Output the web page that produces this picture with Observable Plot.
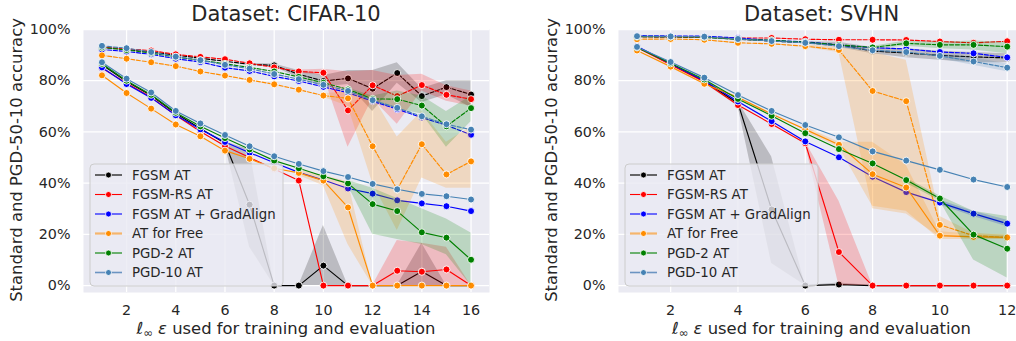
<!DOCTYPE html>
<html><head><meta charset="utf-8">
<script src="https://cdn.jsdelivr.net/npm/d3@7"></script>
<script src="https://cdn.jsdelivr.net/npm/@observablehq/plot@0.6"></script>
<style>
html,body{margin:0;padding:0;background:#fff;overflow:hidden;width:1016px;height:341px;}
#wrap{position:relative;width:1016px;height:341px;overflow:hidden;font-family:"DejaVu Sans",sans-serif;}
</style></head><body><div id="wrap"></div>
<script>
const methods = ["FGSM AT","FGSM-RS AT","FGSM AT + GradAlign","AT for Free","PGD-2 AT","PGD-10 AT"];
const colors = ["black","red","blue","darkorange","green","steelblue"];
const legendLine = ["#444444","red","blue","#f5b56c","green","#6b94c2"];
const legendLineWidth = [1.6,1.1,1.1,2.2,1.1,1.6];
const yTicks = [0,0.2,0.4,0.6,0.8,1.0];
const cifarEps = [1,2,3,4,5,6,7,8,9,10,11,12,13,14,15,16];
const cifarTicks = [2,4,6,8,10,12,14,16];
const svhnEps = [1,2,3,4,5,6,7,8,9,10,11,12];
const svhnTicks = [2,4,6,8,10,12];
const N = null;

// CIFAR-10: standard accuracy (dashed)
const cifarStdFGSM  = [0.930,0.922,0.912,0.900,0.888,0.876,0.864,0.860,0.825,0.799,0.809,0.769,0.830,0.740,0.775,0.746];
const cifarStdRS    = [0.932,0.924,0.918,0.903,0.893,0.884,0.868,0.852,0.836,0.831,0.684,0.782,0.740,0.783,0.745,0.728];
const cifarStdGA    = [0.922,0.914,0.903,0.886,0.873,0.851,0.838,0.817,0.799,0.776,0.753,0.720,0.689,0.656,0.626,0.589];
const cifarStdFree  = [0.899,0.886,0.872,0.857,0.836,0.820,0.803,0.786,0.765,0.742,0.731,0.544,0.375,0.552,0.434,0.485];
const cifarStdPGD2  = [0.930,0.920,0.908,0.893,0.880,0.866,0.852,0.836,0.815,0.792,0.766,0.729,0.728,0.703,0.622,0.693];
const cifarStdPGD10 = [0.936,0.927,0.912,0.894,0.880,0.862,0.847,0.826,0.806,0.784,0.760,0.724,0.694,0.661,0.630,0.609];
// CIFAR-10: PGD-50-10 accuracy (solid)
const cifarPgdFGSM  = [0.862,0.797,0.742,0.672,0.613,0.556,0.316,0,0,0.078,0,0,0,0.055,0,0];
const cifarPgdRS    = [0.850,0.790,0.735,0.665,0.602,0.545,0.500,0.455,0.410,0,0,0,0.058,0.054,0.063,0];
const cifarPgdGA    = [0.852,0.787,0.733,0.665,0.610,0.561,0.519,0.480,0.442,0.412,0.379,0.359,0.333,0.321,0.310,0.291];
const cifarPgdFree  = [0.821,0.752,0.691,0.629,0.583,0.527,0.495,0.458,0.440,0.410,0.305,0,0,0,0,0];
const cifarPgdPGD2  = [0.866,0.800,0.745,0.675,0.622,0.576,0.532,0.488,0.458,0.427,0.399,0.318,0.291,0.208,0.187,0.101];
const cifarPgdPGD10 = [0.872,0.808,0.754,0.682,0.633,0.588,0.544,0.505,0.475,0.447,0.424,0.397,0.376,0.358,0.349,0.336];
// CIFAR-10 confidence bands (lower / upper)
const cifarStdFGSMLo = [N,N,N,N,N,N,0.860,0.855,0.810,0.775,0.785,0.680,0.790,0.715,0.745,0.695];
const cifarStdFGSMHi = [N,N,N,N,N,N,0.868,0.865,0.840,0.820,0.840,0.840,0.870,0.770,0.800,0.800];
const cifarStdRSLo   = [N,N,N,N,N,N,N,N,0.830,0.820,0.540,0.730,0.630,0.760,0.720,0.700];
const cifarStdRSHi   = [N,N,N,N,N,N,N,N,0.842,0.845,0.835,0.840,0.820,0.825,0.780,0.760];
const cifarStdFreeLo = [N,N,N,N,N,N,N,N,N,0.735,0.700,0.400,0.215,0.420,0.380,0.380];
const cifarStdFreeHi = [N,N,N,N,N,N,N,N,N,0.750,0.755,0.740,0.580,0.680,0.560,0.620];
const cifarStdPGD2Lo = [N,N,N,N,N,N,N,N,N,N,0.760,0.720,0.690,0.670,0.540,0.640];
const cifarStdPGD2Hi = [N,N,N,N,N,N,N,N,N,N,0.772,0.740,0.760,0.740,0.680,0.740];
const cifarPgdFGSMLo = [N,N,N,N,N,0.550,0.150,0,0,0,0,0,0,0,0,0];
const cifarPgdFGSMHi = [N,N,N,N,N,0.562,0.530,0,0,0.235,0,0,0,0.165,0,0];
const cifarPgdRSLo   = [N,N,N,N,N,N,N,N,N,N,N,0,0,0,0,0];
const cifarPgdRSHi   = [N,N,N,N,N,N,N,N,N,N,N,0,0.176,0.165,0.150,0];
const cifarPgdFreeLo = [N,N,N,N,N,N,N,N,0.430,0.390,0.160,0,N,N,N,N];
const cifarPgdFreeHi = [N,N,N,N,N,N,N,N,0.450,0.430,0.405,0,N,N,N,N];
const cifarPgdPGD2Lo = [N,N,N,N,N,N,N,N,N,N,0.390,0.200,0.180,0.160,0.120,0.000];
const cifarPgdPGD2Hi = [N,N,N,N,N,N,N,N,N,N,0.410,0.380,0.340,0.300,0.260,0.205];

// SVHN: standard accuracy (dashed)
const svhnStdFGSM  = [0.972,0.971,0.970,0.962,0.955,0.948,0.940,0.916,0.908,0.899,0.893,0.889];
const svhnStdRS    = [0.972,0.972,0.970,0.967,0.967,0.962,0.960,0.960,0.959,0.953,0.948,0.954];
const svhnStdGA    = [0.976,0.975,0.974,0.967,0.957,0.952,0.940,0.929,0.924,0.912,0.907,0.891];
const svhnStdFree  = [0.962,0.963,0.960,0.948,0.944,0.935,0.920,0.760,0.720,0.237,0.195,0.188];
const svhnStdPGD2  = [0.972,0.972,0.970,0.962,0.958,0.950,0.940,0.930,0.946,0.940,0.940,0.933];
const svhnStdPGD10 = [0.974,0.973,0.972,0.963,0.955,0.948,0.935,0.919,0.912,0.897,0.875,0.851];
// SVHN: PGD-50-10 accuracy (solid)
const svhnPgdFGSM  = [0.932,0.865,0.798,0.712,0.297,0,0.004,0,0,0,0,0];
const svhnPgdRS    = [0.930,0.862,0.795,0.705,0.631,0.556,0.131,0,0,0,0,0];
const svhnPgdGA    = [0.935,0.866,0.800,0.719,0.642,0.563,0.501,0.425,0.365,0.324,0.281,0.242];
const svhnPgdFree  = [0.918,0.855,0.788,0.735,0.670,0.610,0.550,0.435,0.383,0.195,0.190,0.188];
const svhnPgdPGD2  = [0.930,0.868,0.805,0.729,0.663,0.595,0.533,0.477,0.412,0.340,0.199,0.144];
const svhnPgdPGD10 = [0.932,0.873,0.812,0.744,0.682,0.627,0.579,0.524,0.488,0.452,0.414,0.385];
// SVHN confidence bands
const svhnStdFGSMLo  = [N,N,N,N,N,0.945,0.930,0.905,0.890,0.880,0.870,0.870];
const svhnStdFGSMHi  = [N,N,N,N,N,0.952,0.950,0.930,0.925,0.915,0.910,0.905];
const svhnStdFreeLo  = [N,N,N,N,N,0.930,0.910,0.300,0.280,0.190,0.185,0.180];
const svhnStdFreeHi  = [N,N,N,N,N,0.940,0.930,0.910,0.880,0.270,0.205,0.195];
const svhnStdPGD2Lo  = [N,N,N,N,N,N,N,0.925,0.935,0.925,0.920,0.905];
const svhnStdPGD2Hi  = [N,N,N,N,N,N,N,0.935,0.955,0.950,0.955,0.950];
const svhnStdPGD10Lo = [N,N,N,N,N,N,N,N,N,0.885,0.860,0.835];
const svhnStdPGD10Hi = [N,N,N,N,N,N,N,N,N,0.905,0.890,0.865];
const svhnPgdFGSMLo  = [N,N,0.790,0.700,0.086,0,0,0,0,0,0,0];
const svhnPgdFGSMHi  = [N,N,0.805,0.720,0.503,0,0.010,0,0,0,0,0];
const svhnPgdRSLo    = [N,N,N,N,N,0.550,0.000,0,0,0,0,0];
const svhnPgdRSHi    = [N,N,N,N,N,0.562,0.330,0,0,0,0,0];
const svhnPgdGALo    = [N,N,N,N,N,N,N,N,N,0.315,0.270,0.230];
const svhnPgdGAHi    = [N,N,N,N,N,N,N,N,N,0.333,0.290,0.255];
const svhnPgdFreeLo  = [N,N,N,N,N,0.600,0.540,0.310,0.290,0.180,0.180,0.180];
const svhnPgdFreeHi  = [N,N,N,N,N,0.620,0.560,0.560,0.470,0.210,0.200,0.200];
const svhnPgdPGD2Lo  = [N,N,N,N,N,N,N,N,0.400,0.330,0.100,0.030];
const svhnPgdPGD2Hi  = [N,N,N,N,N,N,N,N,0.420,0.350,0.290,0.270];

const wrap = document.getElementById("wrap");

function buildRows(eps, std, pgd, stdLo, stdHi, pgdLo, pgdHi) {
  const rows = [];
  methods.forEach((m, i) => {
    eps.forEach((e, j) => {
      rows.push({m: i, metric: "std", eps: e, acc: std[i][j],
        lo: stdLo[i] ? stdLo[i][j] : null, hi: stdHi[i] ? stdHi[i][j] : null});
      rows.push({m: i, metric: "pgd", eps: e, acc: pgd[i][j],
        lo: pgdLo[i] ? pgdLo[i][j] : null, hi: pgdHi[i] ? pgdHi[i][j] : null});
    });
  });
  return rows;
}

function panel(o) {
  const rows = buildRows(o.eps, o.std, o.pgd, o.stdLo, o.stdHi, o.pgdLo, o.pgdHi);
  const marks = [
    Plot.frame({fill: "#EAEAF2", stroke: "none"}),
    Plot.gridX(o.ticks, {stroke: "white", strokeOpacity: 1, strokeWidth: 1.25}),
    Plot.gridY(yTicks, {stroke: "white", strokeOpacity: 1, strokeWidth: 1.25}),
    Plot.axisX(o.ticks, {tickSize: 0, tickPadding: 12, fontSize: 14.3, label: null}),
    Plot.axisY(yTicks, {tickSize: 0, tickPadding: 13, fontSize: 14.3, label: null,
      tickFormat: d => Math.round(d * 100) + "%"})
  ];
  methods.forEach((m, i) => {
    const dStd = rows.filter(r => r.m === i && r.metric === "std");
    const dPgd = rows.filter(r => r.m === i && r.metric === "pgd");
    marks.push(Plot.areaY(dStd, {x: "eps", y1: "lo", y2: "hi", fill: colors[i], fillOpacity: 0.2}));
    marks.push(Plot.areaY(dPgd, {x: "eps", y1: "lo", y2: "hi", fill: colors[i], fillOpacity: 0.2}));
    marks.push(Plot.line(dStd, {x: "eps", y: "acc", stroke: colors[i], strokeWidth: 1.15, strokeDasharray: "4,1.8"}));
    marks.push(Plot.line(dPgd, {x: "eps", y: "acc", stroke: colors[i], strokeWidth: 1.15}));
    marks.push(Plot.dot(dStd, {x: "eps", y: "acc", fill: colors[i], stroke: "white", strokeWidth: 0.9, r: 3.5}));
    marks.push(Plot.dot(dPgd, {x: "eps", y: "acc", fill: colors[i], stroke: "white", strokeWidth: 0.9, r: 3.5}));
  });
  const svg = Plot.plot({
    width: o.width, height: 341,
    marginLeft: o.marginLeft, marginRight: o.marginRight, marginTop: 29, marginBottom: 49,
    x: {domain: o.xDomain},
    y: {domain: [-0.027, 1.0]},
    style: {fontFamily: "DejaVu Sans", fontSize: "14.3px", color: "#262626", background: "transparent", overflow: "visible"},
    marks
  });
  svg.style.position = "absolute";
  svg.style.left = o.left + "px";
  svg.style.top = "0px";
  wrap.appendChild(svg);
}

panel({
  eps: cifarEps, ticks: cifarTicks, xDomain: [0.25, 16.75],
  width: 510, left: 0, marginLeft: 83, marginRight: 21,
  std: [cifarStdFGSM, cifarStdRS, cifarStdGA, cifarStdFree, cifarStdPGD2, cifarStdPGD10],
  pgd: [cifarPgdFGSM, cifarPgdRS, cifarPgdGA, cifarPgdFree, cifarPgdPGD2, cifarPgdPGD10],
  stdLo: [cifarStdFGSMLo, cifarStdRSLo, null, cifarStdFreeLo, cifarStdPGD2Lo, null],
  stdHi: [cifarStdFGSMHi, cifarStdRSHi, null, cifarStdFreeHi, cifarStdPGD2Hi, null],
  pgdLo: [cifarPgdFGSMLo, cifarPgdRSLo, null, cifarPgdFreeLo, cifarPgdPGD2Lo, null],
  pgdHi: [cifarPgdFGSMHi, cifarPgdRSHi, null, cifarPgdFreeHi, cifarPgdPGD2Hi, null]
});
panel({
  eps: svhnEps, ticks: svhnTicks, xDomain: [0.45, 12.55],
  width: 530, left: 510, marginLeft: 108, marginRight: 14.8,
  std: [svhnStdFGSM, svhnStdRS, svhnStdGA, svhnStdFree, svhnStdPGD2, svhnStdPGD10],
  pgd: [svhnPgdFGSM, svhnPgdRS, svhnPgdGA, svhnPgdFree, svhnPgdPGD2, svhnPgdPGD10],
  stdLo: [svhnStdFGSMLo, null, null, svhnStdFreeLo, svhnStdPGD2Lo, svhnStdPGD10Lo],
  stdHi: [svhnStdFGSMHi, null, null, svhnStdFreeHi, svhnStdPGD2Hi, svhnStdPGD10Hi],
  pgdLo: [svhnPgdFGSMLo, svhnPgdRSLo, svhnPgdGALo, svhnPgdFreeLo, svhnPgdPGD2Lo, null],
  pgdHi: [svhnPgdFGSMHi, svhnPgdRSHi, svhnPgdGAHi, svhnPgdFreeHi, svhnPgdPGD2Hi, null]
});

// Overlay: titles, axis labels, legends
const ns = "http://www.w3.org/2000/svg";
const ov = document.createElementNS(ns, "svg");
ov.setAttribute("width", 1016); ov.setAttribute("height", 341);
ov.style.position = "absolute"; ov.style.left = "0px"; ov.style.top = "0px";
ov.style.fontFamily = "DejaVu Sans";
wrap.appendChild(ov);
function el(tag, attrs, parent) {
  const e = document.createElementNS(ns, tag);
  for (const k in attrs) e.setAttribute(k, attrs[k]);
  (parent || ov).appendChild(e);
  return e;
}
function text(str, attrs, parent) { const t = el("text", attrs, parent); t.textContent = str; return t; }

const panelsGeo = [
  {title: "Dataset: CIFAR-10", cx: 286, ylabX: 16, legX: 90},
  {title: "Dataset: SVHN", cx: 821.5, ylabX: 551, legX: 625}
];
panelsGeo.forEach(p => {
  text(p.title, {x: p.cx, y: 21, "text-anchor": "middle", "font-size": 21, fill: "#262626"});
  const xl = el("text", {x: p.cx, y: 334, "text-anchor": "middle", "font-size": 16.4, fill: "#262626"});
  const t1 = el("tspan", {"font-style": "italic"}, xl); t1.textContent = "ℓ";
  const t2 = el("tspan", {"font-size": 11.5, dy: 3}, xl); t2.textContent = "∞";
  const t3 = el("tspan", {dy: -3}, xl); t3.textContent = " ";
  const t4 = el("tspan", {"font-style": "italic"}, xl); t4.textContent = "ε";
  const t5 = el("tspan", {}, xl); t5.textContent = " used for training and evaluation";
  text("Standard and PGD-50-10 accuracy", {x: 0, y: 0, "text-anchor": "middle", "dominant-baseline": "central",
    "font-size": 16.4, fill: "#262626", transform: `translate(${p.ylabX},160) rotate(-90)`});
  // legend
  const g = el("g", {});
  el("rect", {x: p.legX, y: 164, width: 193, height: 122, rx: 4, fill: "#EAEAF2", "fill-opacity": 0.8, stroke: "#cccccc", "stroke-width": 1}, g);
  methods.forEach((m, i) => {
    const y = 175 + i * 19.5;
    el("line", {x1: p.legX + 5, x2: p.legX + 32, y1: y, y2: y, stroke: legendLine[i], "stroke-width": legendLineWidth[i]}, g);
    el("circle", {cx: p.legX + 18.5, cy: y, r: 3, fill: colors[i], stroke: "white", "stroke-width": 0.8}, g);
    text(m, {x: p.legX + 42, y: y, dy: "0.36em", "font-size": 13.3, fill: "#262626"}, g);
  });
});
</script></body></html>
